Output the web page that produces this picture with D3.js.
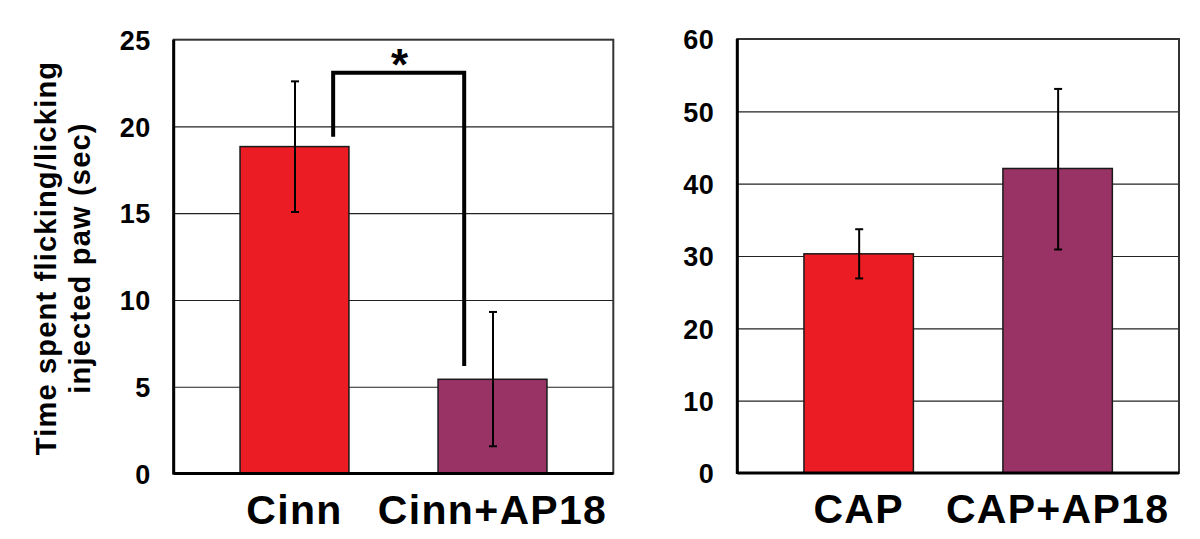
<!DOCTYPE html>
<html><head><meta charset="utf-8">
<script src="https://cdn.jsdelivr.net/npm/d3@7"></script>
<style>
html,body{margin:0;padding:0;background:#fff;}
text{font-family:"Liberation Sans",Arial,sans-serif;font-weight:bold;fill:#000;}
</style></head>
<body><svg id="c" width="1200" height="539"></svg>
<script>
const leftCategories = ["Cinn", "Cinn+AP18"];
const leftValues = [18.84, 5.43];
const leftErrLow = [15.07, 1.57];
const leftErrHigh = [22.6, 9.31];
const leftTicks = [0, 5, 10, 15, 20, 25];

const rightCategories = ["CAP", "CAP+AP18"];
const rightValues = [30.3, 42.1];
const rightErrLow = [26.9, 30.9];
const rightErrHigh = [33.7, 53.1];
const rightTicks = [0, 10, 20, 30, 40, 50, 60];

const barColors = ["#EC1C24", "#993366"];
const yTitle = ["Time spent flicking/licking", "injected paw (sec)"];
const sigBracket = {from: "Cinn", to: "Cinn+AP18", top: 23.1, leftEnd: 19.4, rightEnd: 6.2, label: "*"};

const svg = d3.select("#c");

function panel(cfg) {
  const {x0, x1, y0, y1, cats, vals, lo, hi, ticks} = cfg;
  const x = d3.scaleBand().domain(cats).range([x0, x1]).paddingInner(0.45).paddingOuter(0.335);
  const y = d3.scaleLinear().domain([ticks[0], ticks[ticks.length - 1]]).range([y1, y0]);
  const g = svg.append("g");
  g.append("g").attr("transform", `translate(${x0},0)`)
    .call(d3.axisLeft(y).tickValues(ticks.slice(1, -1)).tickSize(-(x1 - x0)).tickFormat(""))
    .call(s => s.select(".domain").remove())
    .call(s => s.selectAll("line").attr("stroke", "#222").attr("stroke-width", 1.2));
  g.selectAll("rect.bar").data(cats).join("rect").attr("class", "bar")
    .attr("x", d => x(d)).attr("width", x.bandwidth())
    .attr("y", (d, i) => y(vals[i])).attr("height", (d, i) => y(0) - y(vals[i]))
    .attr("fill", (d, i) => barColors[i]).attr("stroke", "#1a1a1a").attr("stroke-width", 1.5);
  g.append("rect").attr("x", x0).attr("y", y0).attr("width", x1 - x0).attr("height", y1 - y0)
    .attr("fill", "none").attr("stroke", "#333").attr("stroke-width", 2);
  g.append("line").attr("x1", x0).attr("x2", x0).attr("y1", y0).attr("y2", y1 + 1).attr("stroke", "#000").attr("stroke-width", 3);
  g.append("line").attr("x1", x0).attr("x2", x1).attr("y1", y1).attr("y2", y1).attr("stroke", "#000").attr("stroke-width", 3);
  cats.forEach((c, i) => {
    const cx = x(c) + x.bandwidth() / 2 + 0.5;
    g.append("line").attr("x1", cx).attr("x2", cx).attr("y1", y(hi[i])).attr("y2", y(lo[i])).attr("stroke", "#000").attr("stroke-width", 2);
    [hi[i], lo[i]].forEach(v => g.append("line").attr("x1", cx - 4).attr("x2", cx + 4).attr("y1", y(v)).attr("y2", y(v)).attr("stroke", "#000").attr("stroke-width", 2));
  });
  g.append("g").attr("transform", `translate(${x0},0)`)
    .call(d3.axisLeft(y).tickValues(ticks).tickSize(0).tickPadding(23))
    .call(s => s.select(".domain").remove())
    .call(s => s.selectAll("text").style("font-size", "27px").style("letter-spacing", "0.5px").attr("font-family", null).attr("dy", "0.36em"));
  g.append("g").attr("transform", `translate(0,${y1})`)
    .call(d3.axisBottom(x).tickSize(0).tickPadding(21))
    .call(s => s.select(".domain").remove())
    .call(s => s.selectAll("text").style("font-size", "41px").style("letter-spacing", "1.3px").attr("font-family", null).attr("dy", "0.71em"));
  return {x, y};
}

const L = panel({x0: 173.7, x1: 613.3, y0: 39.7, y1: 473.5, cats: leftCategories, vals: leftValues, lo: leftErrLow, hi: leftErrHigh, ticks: leftTicks});
panel({x0: 737.3, x1: 1179, y0: 39, y1: 473, cats: rightCategories, vals: rightValues, lo: rightErrLow, hi: rightErrHigh, ticks: rightTicks});

const bxL = L.x(sigBracket.from) + L.x.bandwidth() * 0.855;
const bxR = L.x(sigBracket.to) + L.x.bandwidth() * 0.24;
svg.append("path")
  .attr("d", `M${bxL},${L.y(sigBracket.leftEnd)}V${L.y(sigBracket.top)}H${bxR}V${L.y(sigBracket.rightEnd)}`)
  .attr("fill", "none").attr("stroke", "#000").attr("stroke-width", 4);
svg.append("text").attr("x", (bxL + bxR) / 2 + 1).attr("y", L.y(sigBracket.top) + 7)
  .attr("text-anchor", "middle").style("font-size", "44px").text(sigBracket.label);

const tg = svg.append("g").attr("transform", "translate(0,258) rotate(-90)");
tg.selectAll("text").data(yTitle).join("text")
  .attr("x", 0).attr("y", (d, i) => 56 + i * 34)
  .attr("text-anchor", "middle").style("font-size", "29px").style("letter-spacing", "1.2px").text(d => d);
</script></body></html>
